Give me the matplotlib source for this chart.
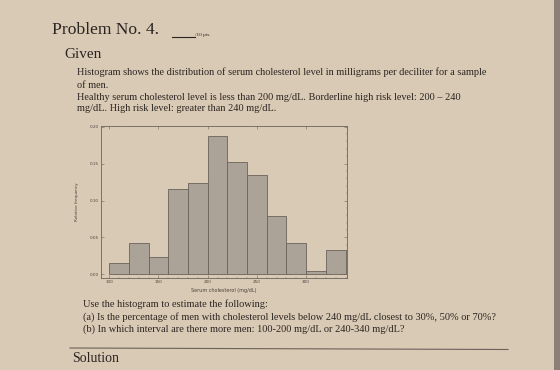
import matplotlib.pyplot as plt
import numpy as np

# histogram data
bin_edges = [100, 120, 140, 160, 180, 200, 220, 240, 260, 280, 300, 320, 340]
rel_freq = [0.016, 0.042, 0.024, 0.115, 0.124, 0.187, 0.152, 0.134, 0.079, 0.042, 0.005, 0.033]
x_ticks = [100, 150, 200, 250, 300]
y_ticks = [0.00, 0.05, 0.10, 0.15, 0.20]

paragraph = [
    "Histogram shows the distribution of serum cholesterol level in milligrams per deciliter for a sample",
    "of men.",
    "Healthy serum cholesterol level is less than 200 mg/dL. Borderline high risk level: 200 \u2013 240",
    "mg/dL. High risk level: greater than 240 mg/dL.",
]
questions = [
    "Use the histogram to estimate the following:",
    "(a) Is the percentage of men with cholesterol levels below 240 mg/dL closest to 30%, 50% or 70%?",
    "(b) In which interval are there more men: 100-200 mg/dL or 240-340 mg/dL?",
]

paper = '#d9cab5'
ink = '#2b2521'
serif = 'Liberation Serif'

W, H = 560, 370
fig = plt.figure(figsize=(W / 100, H / 100), dpi=100)
fig.patch.set_facecolor(paper)

def px(x, y):
    return x / W, 1 - y / H

# page edge at the far right of the photo
fig.add_artist(plt.Rectangle((554 / W, 0), 6 / W, 1, transform=fig.transFigure,
                             color='#8a8076', lw=0))

# header text
fig.text(*px(52, 30.5), "Problem No. 4.", family=serif, fontsize=12.6, color=ink, va='center')
fig.add_artist(plt.Line2D([172 / W, 195 / W], [1 - 36.5 / H] * 2, color=ink, lw=0.8))
fig.text(*px(195, 35), "/10 pts.", family=serif, fontsize=3.8, color=ink, va='center')
fig.text(*px(64, 54), "Given", family=serif, fontsize=11, color=ink, va='center')

for y, line in zip([72, 85.5, 97, 108.5], paragraph):
    fig.text(*px(77, y), line, family=serif, fontsize=7.35, color=ink, va='center')

for y, line in zip([304.5, 317.5, 329], questions):
    fig.text(*px(83, y), line, family=serif, fontsize=7.45, color=ink, va='center')

fig.add_artist(plt.Line2D([70 / W, 508 / W], [1 - 348 / H, 1 - 349.5 / H], color='#6b625a', lw=0.8))
fig.text(*px(72, 358), "Solution", family=serif, fontsize=10, color=ink, va='center')

# histogram
ax = fig.add_axes([101.3 / W, 1 - 277.7 / H, (347 - 101.3) / W, (277.7 - 125.7) / H])
ax.set_facecolor(paper)
ax.bar(bin_edges[:-1], rel_freq, width=np.diff(bin_edges), align='edge',
       color='#aba397', edgecolor='#6a635c', linewidth=0.6)
ax.set_xlim(91.9, 341.5)
ax.set_ylim(-0.0046, 0.2014)
ax.set_xticks(x_ticks)
ax.set_yticks(y_ticks)
ax.set_xticklabels([str(t) for t in x_ticks])
ax.set_yticklabels([f"{t:.2f}" for t in y_ticks])
ax.minorticks_on()
ax.tick_params(which='both', direction='in', top=True, right=True, labelsize=3,
               colors='#6a635c', labelcolor='#4a433d', pad=1.5)
ax.tick_params(which='major', length=2, width=0.4)
ax.tick_params(which='minor', length=1, width=0.3)
for s in ax.spines.values():
    s.set_color('#6a635c')
    s.set_linewidth(0.6)
ax.set_xlabel("Serum cholesterol (mg/dL)", fontsize=3.5, color='#4a433d', labelpad=3)
ax.set_ylabel("Relative frequency", fontsize=3, color='#4a433d', labelpad=8)

fig.savefig("out.png", dpi=100, facecolor=fig.get_facecolor())
